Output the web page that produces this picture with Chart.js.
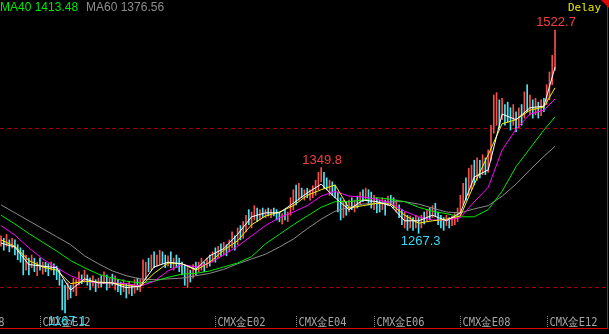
<!DOCTYPE html>
<html>
<head>
<meta charset="utf-8">
<script src="https://cdn.jsdelivr.net/npm/chart.js@4.4.0/dist/chart.umd.min.js"></script>
<style>
  html, body { margin: 0; padding: 0; background: #000; }
  #wrap { width: 609px; height: 334px; position: relative; background: #000; }
</style>
</head>
<body>
<div id="wrap"><canvas id="kline"></canvas></div>
<script>
// daily bars, oldest first (U = closed up / red, D = closed down / cyan)
const highs = [
  1264,1261,1266,1259,1261,1259,1253,1249,1246,1240,
  1236,1240,1236,1231,1236,1231,1231,1229,1231,1229,
  1226,1221,1209,1202,1205,1202,1211,1209,1219,1215,
  1221,1215,1211,1214,1209,1211,1214,1219,1215,1211,
  1216,1214,1209,1206,1209,1204,1206,1202,1209,1211,
  1209,1234,1231,1236,1240,1244,1240,1246,1244,1240,
  1239,1244,1236,1240,1236,1231,1228,1224,1221,1228,
  1231,1231,1236,1231,1236,1240,1244,1249,1251,1254,
  1256,1253,1259,1269,1264,1274,1277,1282,1290,1297,
  1294,1302,1299,1297,1299,1297,1299,1297,1299,1297,
  1294,1292,1297,1294,1312,1322,1328,1330,1324,1322,
  1324,1322,1327,1334,1344,1349.8,1344,1337,1334,1332,
  1328,1319,1312,1309,1307,1309,1312,1309,1314,1319,
  1322,1324,1322,1319,1315,1312,1309,1312,1309,1314,
  1315,1312,1309,1303,1297,1294,1290,1289,1287,1290,
  1287,1290,1294,1297,1299,1302,1305,1294,1290,1287,
  1290,1287,1289,1292,1299,1315,1330,1337,1349,1353,
  1359,1362,1359,1366,1362,1372,1403,1441,1444,1435,
  1437,1429,1432,1425,1429,1420,1425,1429,1445,1454,
  1441,1435,1437,1432,1435,1437,1454,1470,1491,1522.7
];
const lows = [
  1251,1246,1251,1244,1249,1240,1234,1231,1215,1221,
  1215,1224,1219,1214,1221,1216,1219,1214,1221,1215,
  1209,1202,1171,1167.1,1184,1186,1194,1189,1202,1204,
  1206,1202,1196,1201,1194,1199,1200,1204,1196,1199,
  1202,1196,1194,1190,1194,1186,1191,1189,1192,1196,
  1194,1202,1209,1219,1221,1224,1226,1228,1229,1224,
  1226,1224,1221,1224,1219,1215,1202,1199,1206,1211,
  1215,1219,1221,1219,1224,1226,1231,1231,1236,1239,
  1240,1239,1244,1249,1246,1253,1259,1261,1269,1278,
  1274,1284,1282,1284,1287,1287,1289,1287,1289,1284,
  1282,1279,1284,1282,1290,1297,1303,1309,1312,1309,
  1312,1309,1312,1315,1322,1332,1324,1322,1315,1315,
  1312,1294,1284,1287,1290,1294,1297,1294,1299,1303,
  1307,1309,1303,1299,1297,1293,1294,1297,1290,1302,
  1303,1299,1294,1287,1278,1274,1271,1274,1271,1274,
  1267.3,1274,1279,1282,1284,1287,1289,1278,1274,1271,
  1277,1274,1277,1278,1282,1290,1303,1309,1315,1322,
  1328,1334,1337,1341,1341,1344,1359,1393,1403,1400,
  1410,1403,1407,1397,1403,1395,1400,1403,1412,1420,
  1416,1412,1416,1412,1415,1420,1429,1435,1454,1472
];
const upDown =
  "UDUDUDDDDU" + "DUDUDUDDUD" + "DDDDUDUUUD" + "UDDUDUDUDU" +
  "DUDDUDUDUD" + "UUUDUDUUDD" + "UDUDDDDUDU" + "DUUDUDUDUD" +
  "UDUUDUDUUD" + "UUDUDUDUDD" + "DUDUUUDUDU" + "DUUUUUDDUD" +
  "DDDUDUDUDU" + "DUDDUDDUDU" + "DDUDDUDUDU" + "DUDUDUDDDD" +
  "UDUUUUUDUU" + "DUDUDUUUUD" + "UDDDUDUDUD" + "UDUDUDUUUU";

// moving averages at these bar numbers
const maIdx = [0,5,10,15,20,25,30,35,40,45,50,55,60,65,70,75,80,85,90,95,
               100,105,110,115,120,125,130,135,140,145,150,155,160,165,170,175,180,185,190,195,199];
const ma5 = [1255,1250,1228,1226,1224,1196,1210,1205,1205,1199,1201,1225,1231,1229,1222,1239,1248,1266,1288,1293,
             1293,1305,1318,1329,1312,1297,1309,1307,1302,1283,1283,1290,1283,1293,1338,1347,1417,1410,1425,1427,1476];
const ma10 = [1259,1251,1233,1225,1221,1204,1207,1206,1205,1202,1200,1217,1230,1229,1221,1231,1246,1258,1278,1289,
              1294,1302,1315,1322,1328,1299,1302,1305,1304,1290,1280,1283,1285,1289,1329,1366,1405,1410,1422,1426,1450];
const ma20 = [1277,1265,1249,1235,1224,1214,1207,1205,1205,1204,1201,1207,1220,1228,1225,1230,1240,1251,1264,1277,
              1287,1294,1302,1314,1320,1314,1313,1310,1305,1295,1288,1284,1284,1287,1307,1325,1372,1398,1417,1422,1436];
const ma40 = [1290,1279,1267,1256,1245,1233,1224,1216,1211,1207,1205,1207,1212,1216,1217,1220,1225,1230,1238,1254,
              1266,1278,1289,1300,1307,1307,1309,1312,1310,1307,1300,1295,1292,1288,1288,1297,1320,1351,1374,1397,1413.48];
const ma60 = [1303,1293,1283,1273,1263,1253,1239,1229,1220,1214,1210,1209,1210,1211,1214,1217,1222,1229,1235,1241,
              1250,1260,1273,1285,1295,1300,1304,1305,1307,1307,1304,1299,1294,1293,1298,1302,1314,1329,1347,1364,1376.56];

const guideLevels = [1400, 1200];
const peakBars = [199, 115];
const troughBars = [150, 23];
const contractIdx = [-17, 14, 77, 106, 134, 165, 196];
const contractText = ['CMX金E08','CMX金E12','CMX金E02','CMX金E04','CMX金E06','CMX金E08','CMX金E12'];

const UP = '#f5504a', DOWN = '#4ee4f2';

const bars = highs.map((h, i) => ({ x: i, y: [lows[i], h] }));
const maLine = (vals) => maIdx.map((i, k) => ({ x: i, y: vals[k] }));

const overlay = {
  id: 'overlay',
  beforeDatasetsDraw(chart) {
    const { ctx, chartArea: a, scales: { y } } = chart;
    ctx.save();
    ctx.strokeStyle = '#a00000';
    ctx.lineWidth = 1;
    ctx.setLineDash([4, 3]);
    guideLevels.forEach(v => {
      const py = Math.round(y.getPixelForValue(v)) + 0.5;
      ctx.beginPath(); ctx.moveTo(a.left, py); ctx.lineTo(a.right, py); ctx.stroke();
    });
    ctx.restore();
  },
  afterDatasetsDraw(chart) {
    const { ctx, chartArea: a, scales: { x, y } } = chart;
    ctx.save();

    // frame
    ctx.strokeStyle = '#e00000';
    ctx.lineWidth = 1;
    ctx.beginPath();
    ctx.moveTo(a.left, a.bottom + 0.5); ctx.lineTo(a.right + 0.5, a.bottom + 0.5);
    ctx.moveTo(a.right + 0.5, 0); ctx.lineTo(a.right + 0.5, a.bottom + 0.5);
    ctx.stroke();
    ctx.fillStyle = '#e00000';
    ctx.beginPath(); ctx.moveTo(601, 0); ctx.lineTo(609, 0); ctx.lineTo(609, 8); ctx.closePath(); ctx.fill();

    // contract labels along the bottom
    ctx.font = '12px "DejaVu Sans Mono"';
    ctx.textBaseline = 'alphabetic';
    ctx.textAlign = 'left';
    contractIdx.forEach((idx, k) => {
      const px = Math.round(x.getPixelForValue(idx)) + 0.5;
      ctx.strokeStyle = '#8a8a8a';
      ctx.setLineDash([1, 1]);
      ctx.beginPath(); ctx.moveTo(px, 316); ctx.lineTo(px, a.bottom); ctx.stroke();
      ctx.setLineDash([]);
      const t = contractText[k];
      const w = ctx.measureText(t).width;
      ctx.save();
      ctx.translate(px + 2, 326);
      ctx.scale(48 / w, 1);
      ctx.fillStyle = '#a4a4a4';
      ctx.fillText(t, 0, 0);
      ctx.restore();
    });

    // high / low value marks
    ctx.font = '13px "Liberation Sans"';
    ctx.textAlign = 'center';
    peakBars.forEach(i => {
      ctx.fillStyle = '#f04040';
      ctx.textBaseline = 'alphabetic';
      ctx.fillText(String(highs[i]), x.getPixelForValue(i) + 1, y.getPixelForValue(highs[i]) - 4);
    });
    troughBars.forEach(i => {
      ctx.fillStyle = '#36d8f0';
      ctx.textBaseline = 'top';
      ctx.fillText(String(lows[i]), x.getPixelForValue(i) + 2, y.getPixelForValue(lows[i]) + 2);
    });

    // header
    ctx.textAlign = 'left';
    ctx.textBaseline = 'alphabetic';
    ctx.font = '12px "Liberation Sans"';
    ctx.fillStyle = '#00e800';
    ctx.fillText('MA40 ' + ma40[ma40.length - 1].toFixed(2), 0, 11);
    ctx.fillStyle = '#8c8c8c';
    ctx.fillText('MA60 ' + ma60[ma60.length - 1].toFixed(2), 86, 11);
    ctx.font = '11px "DejaVu Sans Mono"';
    ctx.fillStyle = '#e8e800';
    ctx.fillText('Delay', 568, 11);

    ctx.restore();
  }
};

new Chart(document.getElementById('kline').getContext('2d'), {
  type: 'bar',
  data: {
    datasets: [
      { type: 'line', data: maLine(ma5), borderColor: '#ffffff', order: 1 },
      { type: 'line', data: maLine(ma10), borderColor: '#f0f000', order: 2 },
      { type: 'line', data: maLine(ma20), borderColor: '#ff00ff', order: 3 },
      { type: 'line', data: maLine(ma40), borderColor: '#00e800', order: 4 },
      { type: 'line', data: maLine(ma60), borderColor: '#8c8c8c', order: 5 },
      {
        type: 'bar',
        data: bars,
        backgroundColor: bars.map((b, i) => upDown[i] === 'U' ? UP : DOWN),
        barThickness: 1,
        grouped: false,
        borderWidth: 0,
        order: 6
      }
    ]
  },
  options: {
    responsive: true,
    maintainAspectRatio: false,
    animation: false,
    layout: { padding: { left: 0, right: 2, top: 0, bottom: 6 } },
    datasets: {
      line: { borderWidth: 1, pointRadius: 0, tension: 0, fill: false }
    },
    plugins: { legend: { display: false }, tooltip: { enabled: false } },
    scales: {
      x: { type: 'linear', display: false, offset: false, min: -0.36, max: 217.67 },
      y: { display: false, min: 1148.3, max: 1560.4 }
    }
  },
  plugins: [overlay]
});
</script>
</body>
</html>
